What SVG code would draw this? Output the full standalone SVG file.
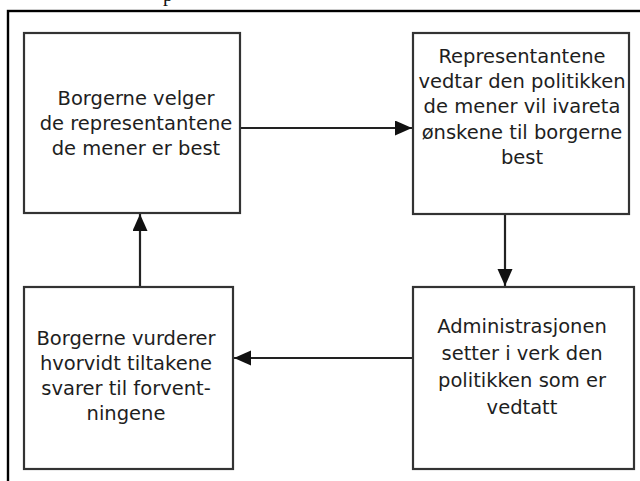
<svg xmlns="http://www.w3.org/2000/svg" width="640" height="481" viewBox="0 0 640 481">
  <defs>
    <style>
      .box { fill: #ffffff; stroke: #333333; stroke-width: 2.2; }
      .lbl { font-family: "DejaVu Sans", "Liberation Sans", sans-serif; font-size: 19.5px; fill: #1e1e1e; text-anchor: middle; }
      .conn { stroke: #222222; stroke-width: 2.2; fill: none; }
    </style>
    <marker id="ah" markerUnits="userSpaceOnUse" markerWidth="18" markerHeight="16" refX="17" refY="7.5" orient="auto">
      <path d="M0,0 L17,7.5 L0,15 Z" fill="#111111"/>
    </marker>
  </defs>
  <rect width="640" height="481" fill="#ffffff"/>
  <text x="163" y="0.5" font-family="Liberation Serif, serif" font-size="20" fill="#111">p</text>
  <rect x="8" y="11" width="640" height="480" fill="none" stroke="#000000" stroke-width="2.4"/>

  <g id="connectors">
    <line class="conn" x1="240" y1="128" x2="412" y2="128" marker-end="url(#ah)"/>
    <line class="conn" x1="505" y1="214" x2="505" y2="286" marker-end="url(#ah)"/>
    <line class="conn" x1="413" y1="358" x2="234" y2="358" marker-end="url(#ah)"/>
    <line class="conn" x1="140" y1="287" x2="140" y2="214" marker-end="url(#ah)"/>
  </g>

  <g id="node1">
    <rect class="box" x="24" y="33" width="216" height="180"/>
    <text class="lbl" x="136" y="105">Borgerne velger</text>
    <text class="lbl" x="136" y="130">de representantene</text>
    <text class="lbl" x="136" y="155">de mener er best</text>
  </g>

  <g id="node2">
    <rect class="box" x="413" y="33" width="216" height="181"/>
    <text class="lbl" x="522" y="63">Representantene</text>
    <text class="lbl" x="522" y="88">vedtar den politikken</text>
    <text class="lbl" x="522" y="113">de mener vil ivareta</text>
    <text class="lbl" x="522" y="139">ønskene til borgerne</text>
    <text class="lbl" x="522" y="164">best</text>
  </g>

  <g id="node3">
    <rect class="box" x="24" y="287" width="209" height="182"/>
    <text class="lbl" x="126" y="345">Borgerne vurderer</text>
    <text class="lbl" x="126" y="370">hvorvidt tiltakene</text>
    <text class="lbl" x="126" y="395">svarer til forvent-</text>
    <text class="lbl" x="126" y="420">ningene</text>
  </g>

  <g id="node4">
    <rect class="box" x="413" y="287" width="221" height="182"/>
    <text class="lbl" x="522" y="333">Administrasjonen</text>
    <text class="lbl" x="522" y="360">setter i verk den</text>
    <text class="lbl" x="522" y="387">politikken som er</text>
    <text class="lbl" x="522" y="414">vedtatt</text>
  </g>
</svg>
